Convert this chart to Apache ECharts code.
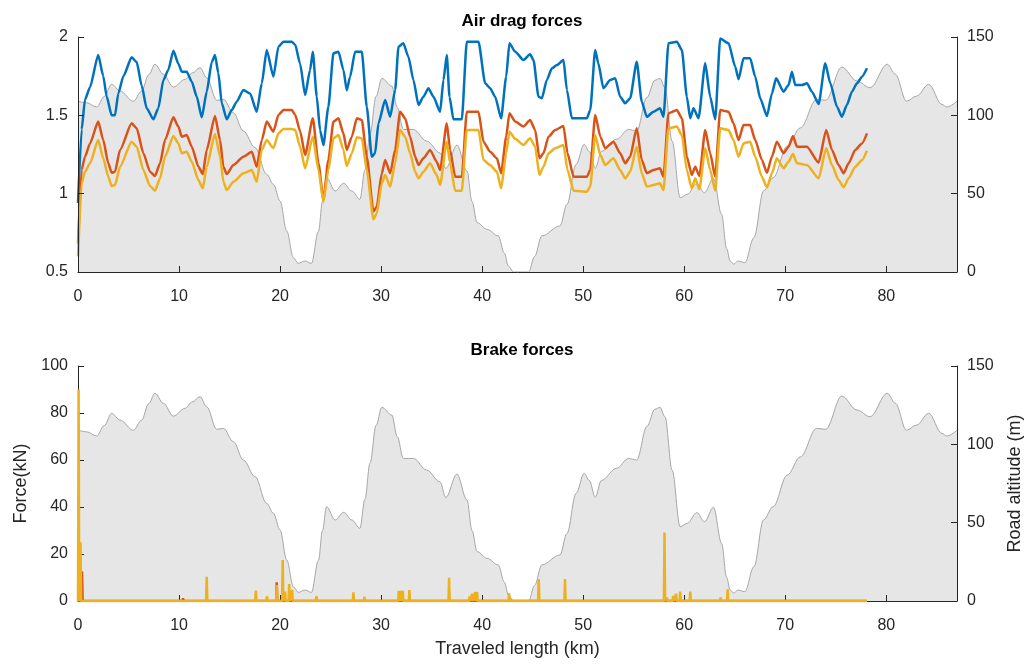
<!DOCTYPE html>
<html>
<head>
<meta charset="utf-8">
<title>Air drag and brake forces</title>
<script src="https://cdn.jsdelivr.net/npm/echarts@6/dist/echarts.min.js"></script>
<style>
  html, body { margin: 0; padding: 0; background: #fff; }
  #chart { width: 1032px; height: 666px; }
</style>
</head>
<body>
<div id="chart"></div>
<script>
// Road altitude along the route: [km, m]
const roadProfile = [
  [0,109],[0.86,108],[1.85,105.3],[2.6,112],[3.33,119.8],[4.16,115.5],[5.48,109],[6.3,115.5],[7.0,126],[7.62,132.6],
  [8.45,126.2],[9.44,118],[10.6,123],[11.3,127],[12.08,130.4],[12.74,124],[13.73,109.6],[14.39,110.2],[15.38,101.7],
  [16.37,90],[17.52,79.4],[18.68,62.3],[19.34,56],[20.0,45.3],[20.66,26.2],[21.32,9.1],[21.8,5.5],[22.47,7],[23.1,5.5],
  [23.8,26],[24.2,45],[24.6,60.2],[25.45,51.7],[26.3,56.6],[27.1,51.7],[27.9,46.4],[28.4,65],[28.9,88],[29.5,112],
  [30.07,123.6],[31.06,118.7],[31.6,105],[32.2,91],[33.2,91],[34.5,83.6],[35.84,76],[36.4,66],[37.5,81],[38.5,64.5],
  [39.0,45],[39.5,31.5],[40.5,27.2],[41.6,23],[42.2,12],[42.6,3.8],[43.1,0],[44.6,0],[45.2,10],[45.9,23],[47.7,29.4],
  [48.4,43.2],[49.3,68.7],[50.1,81.5],[50.6,77],[51.2,66.2],[51.8,77],[53.3,84.7],[54.5,91],[55.3,90],[56.3,111.3],
  [57.1,122.4],[57.6,123.6],[58.1,117.6],[58.8,83.6],[59.6,47.4],[60.3,49.6],[61.25,56.4],[62.0,50.6],[62.9,59.8],
  [63.7,36.8],[64.2,15],[64.55,7],[64.9,5],[65.3,7],[66.0,6],[66.9,21.9],[67.85,51.7],[68.8,60.2],[70.2,80.4],
  [71.5,92],[73.1,110.2],[74.0,109.6],[75.6,130.8],[77.1,121.9],[78.4,117.6],[80.1,132.6],[80.9,126.2],[82.0,109],
  [83.0,112.3],[84.2,119.8],[85.5,107],[86.0,105.3],[87,109]
];

// Air drag force, first trace (blue): [km, kN]
const dragBlue = [
  [0,0.94],[0.36,1.41],[0.69,1.6],[1.19,1.68],[2.0,1.885],[2.5,1.75],[2.84,1.62],[3.33,1.5],[3.66,1.5],[3.99,1.64],
  [4.49,1.75],[5.31,1.87],[5.81,1.84],[6.3,1.69],[6.8,1.545],[7.46,1.475],[7.95,1.545],[8.45,1.725],[8.94,1.79],
  [9.44,1.913],[9.93,1.83],[10.27,1.778],[10.76,1.778],[11.26,1.715],[11.75,1.62],[12.25,1.487],[12.74,1.65],
  [13.24,1.84],[13.56,1.885],[13.89,1.77],[14.23,1.577],[14.72,1.475],[15.22,1.534],[15.71,1.587],[16.37,1.662],
  [17.03,1.64],[17.69,1.523],[18.19,1.704],[18.68,1.917],[19.34,1.747],[19.84,1.938],[20.33,1.97],[21.16,1.97],
  [21.5,1.95],[21.98,1.83],[22.48,1.63],[22.97,1.79],[23.24,1.906],[23.63,1.62],[23.96,1.406],[24.29,1.31],
  [24.78,1.555],[25.28,1.896],[25.78,1.906],[26.27,1.79],[26.6,1.66],[26.93,1.747],[27.43,1.906],[28.09,1.906],
  [28.58,1.555],[29.08,1.236],[29.4,1.258],[29.74,1.449],[30.4,1.598],[30.9,1.491],[31.39,1.662],[31.72,1.938],
  [32.2,1.96],[32.7,1.874],[33.2,1.725],[33.7,1.566],[34.19,1.619],[34.68,1.673],[35.18,1.619],[35.84,1.523],
  [36.17,1.725],[36.5,1.885],[36.77,1.619],[37.16,1.475],[37.99,1.475],[38.48,1.97],[39.64,1.97],[40.3,1.704],
  [40.79,1.673],[41.29,1.619],[41.88,1.481],[42.38,1.747],[42.7,1.96],[43.27,1.906],[44.09,1.853],[44.75,1.89],
  [45.08,1.853],[45.58,1.619],[45.91,1.609],[46.4,1.725],[46.9,1.8],[47.4,1.821],[48.05,1.853],[48.39,1.662],
  [48.88,1.481],[50.37,1.481],[50.7,1.534],[51.19,1.917],[51.5,1.832],[52.0,1.673],[52.67,1.725],[53.17,1.736],
  [53.66,1.619],[54.16,1.577],[54.65,1.609],[55.3,1.842],[55.8,1.587],[56.3,1.491],[56.96,1.523],[57.6,1.545],
  [57.95,1.491],[58.44,1.96],[59.27,1.97],[59.77,1.917],[60.26,1.619],[60.6,1.481],[60.92,1.545],[61.42,1.481],
  [62.08,1.832],[62.57,1.619],[63.07,1.475],[63.56,1.99],[64.39,1.96],[65.05,1.81],[65.38,1.73],[65.87,1.864],
  [66.53,1.864],[67.03,1.747],[67.52,1.609],[68.19,1.496],[68.68,1.64],[69.1,1.736],[69.83,1.651],[70.33,1.693],
  [70.66,1.778],[70.99,1.693],[71.65,1.693],[72.15,1.704],[72.64,1.651],[73.3,1.572],[73.96,1.832],[74.46,1.704],
  [75.12,1.555],[75.61,1.491],[76.1,1.566],[76.6,1.651],[77.1,1.704],[77.6,1.747],[78.09,1.8]
];

// Air drag force, second trace (orange): [km, kN]
const dragOrange = [
  [0,0.68],[0.36,1.151],[0.69,1.236],[1.19,1.321],[2.0,1.46],[2.5,1.342],[3.0,1.194],[3.33,1.134],[3.66,1.14],
  [4.16,1.279],[5.31,1.449],[5.81,1.417],[6.47,1.258],[7.13,1.14],[7.62,1.113],[8.12,1.194],[8.61,1.342],[9.44,1.487],
  [9.93,1.428],[10.27,1.364],[10.76,1.374],[11.26,1.3],[11.92,1.172],[12.35,1.125],[12.74,1.279],[13.56,1.496],
  [14.06,1.342],[14.39,1.172],[14.72,1.125],[15.38,1.183],[16.37,1.236],[17.2,1.268],[17.69,1.172],[18.19,1.342],
  [18.68,1.46],[19.34,1.396],[19.84,1.502],[20.33,1.534],[21.16,1.534],[21.5,1.502],[21.98,1.4],[22.48,1.247],
  [23.24,1.481],[23.8,1.194],[24.29,0.96],[24.78,1.215],[25.28,1.46],[25.78,1.481],[26.27,1.385],[26.6,1.279],
  [27.1,1.364],[27.6,1.481],[28.09,1.47],[28.58,1.236],[29.24,0.886],[29.57,0.917],[30.07,1.13],[30.4,1.215],
  [30.9,1.13],[31.39,1.279],[31.88,1.523],[32.38,1.481],[32.87,1.364],[33.37,1.236],[33.7,1.183],[34.19,1.226],
  [34.85,1.279],[35.5,1.204],[35.84,1.151],[36.5,1.449],[36.83,1.279],[37.33,1.108],[37.99,1.108],[38.48,1.523],
  [39.64,1.523],[40.13,1.332],[40.79,1.268],[41.46,1.226],[41.88,1.13],[42.38,1.364],[42.7,1.513],[43.27,1.46],
  [44.09,1.428],[44.75,1.47],[45.25,1.406],[45.67,1.226],[46.07,1.258],[46.57,1.364],[47.23,1.406],[48.05,1.432],
  [48.45,1.258],[49.05,1.108],[50.37,1.108],[50.7,1.151],[51.19,1.502],[51.7,1.364],[52.18,1.29],[53.0,1.332],
  [53.66,1.258],[54.16,1.194],[54.65,1.236],[55.3,1.417],[55.8,1.215],[56.3,1.13],[56.96,1.151],[57.6,1.162],
  [57.95,1.108],[58.44,1.513],[59.27,1.534],[59.77,1.481],[60.26,1.236],[60.75,1.119],[61.09,1.172],[61.5,1.113],
  [62.08,1.406],[62.57,1.258],[63.07,1.108],[63.56,1.534],[64.39,1.523],[64.88,1.449],[65.38,1.342],[65.87,1.438],
  [66.53,1.438],[67.03,1.342],[67.69,1.215],[68.19,1.134],[68.68,1.236],[69.17,1.332],[69.83,1.258],[70.33,1.3],
  [70.76,1.368],[71.16,1.3],[72.15,1.3],[73.3,1.198],[74.06,1.406],[74.62,1.279],[75.28,1.183],[75.78,1.13],
  [76.27,1.194],[76.93,1.279],[77.6,1.321],[78.09,1.385]
];

// Air drag force, third trace (yellow): [km, kN]
const dragYellow = [
  [0,0.6],[0.36,1.066],[0.69,1.14],[1.19,1.194],[2.0,1.342],[2.5,1.226],[3.0,1.108],[3.33,1.049],[3.66,1.055],
  [4.16,1.172],[5.31,1.332],[5.81,1.3],[6.47,1.151],[7.13,1.049],[7.62,1.019],[8.12,1.098],[8.61,1.236],[9.44,1.368],
  [9.93,1.321],[10.27,1.258],[10.76,1.268],[11.26,1.204],[11.92,1.087],[12.35,1.034],[12.74,1.172],[13.56,1.381],
  [14.06,1.236],[14.39,1.076],[14.72,1.023],[15.38,1.076],[16.37,1.13],[17.2,1.151],[17.69,1.076],[18.19,1.279],
  [18.68,1.342],[19.34,1.29],[19.84,1.385],[20.33,1.413],[21.16,1.413],[21.5,1.406],[21.98,1.3],[22.48,1.162],
  [23.24,1.364],[23.8,1.151],[24.29,0.949],[24.78,1.151],[25.28,1.353],[25.78,1.374],[26.27,1.279],[26.6,1.177],
  [27.1,1.258],[27.6,1.36],[28.09,1.353],[28.58,1.151],[29.24,0.836],[29.57,0.875],[30.07,1.066],[30.4,1.119],
  [30.9,1.045],[31.39,1.194],[31.88,1.406],[32.38,1.364],[32.87,1.258],[33.37,1.14],[33.7,1.098],[34.19,1.14],
  [34.85,1.194],[35.5,1.119],[35.84,1.055],[36.5,1.332],[36.83,1.194],[37.33,1.019],[37.99,1.019],[38.48,1.406],
  [39.64,1.406],[40.13,1.215],[40.79,1.183],[41.46,1.14],[41.88,1.034],[42.38,1.258],[42.7,1.396],[43.27,1.35],
  [44.09,1.311],[44.75,1.353],[45.25,1.3],[45.67,1.119],[46.07,1.172],[46.57,1.258],[47.23,1.29],[48.05,1.311],
  [48.45,1.151],[49.05,1.019],[50.37,1.013],[50.7,1.045],[51.19,1.374],[51.7,1.247],[52.18,1.183],[53.0,1.226],
  [53.66,1.151],[54.16,1.098],[54.65,1.14],[55.3,1.3],[55.8,1.13],[56.3,1.045],[56.96,1.055],[57.6,1.066],
  [57.95,1.023],[58.44,1.417],[59.27,1.428],[59.77,1.374],[60.26,1.151],[60.75,1.034],[61.09,1.098],[61.5,1.028],
  [62.08,1.29],[62.57,1.151],[63.07,1.019],[63.56,1.417],[64.39,1.406],[64.88,1.342],[65.38,1.236],[65.87,1.321],
  [66.53,1.332],[67.03,1.236],[67.69,1.108],[68.19,1.04],[68.68,1.13],[69.17,1.226],[69.83,1.162],[70.33,1.204],
  [70.76,1.253],[71.16,1.194],[72.15,1.183],[73.3,1.098],[74.06,1.29],[74.62,1.183],[75.28,1.087],[75.78,1.04],
  [76.27,1.098],[76.93,1.172],[77.6,1.215],[78.09,1.274]
];

// Brake force events (yellow trace): [km, kN]
const brakeYellow = [
  [0.06,90],[0.25,25],[12.74,10.3],[15.15,0.7],[17.6,4.4],[18.7,2.1],[19.67,6.8],[20.26,17.4],[20.5,4],[20.9,7.2],
  [21.2,4.7],[23.6,2.1],[27.26,3.7],[28.35,1.8],[31.75,4.3],[31.95,4.4],[32.15,4.3],[32.8,4.7],[36.73,9.9],
  [38.75,2],[39.0,3],[39.3,3.8],[39.5,3.8],[42.67,3.3],[45.6,9.4],[48.2,9.4],[55.6,0.7],[58.05,29.1],[58.3,1.5],
  [58.9,2.2],[59.2,3],[59.6,4],[60.6,4],[63.6,1.5],[64.3,5],[74.2,0.8]
];
// Brake force events (orange trace): [km, kN]
const brakeOrange = [[0.4,12.5],[10.4,1.2],[19.67,8]];

// Axis ranges and tick steps
const kmTicks = { min: 0, max: 87, step: 10 };
const dragTicks = { min: 0.5, max: 2, step: 0.5 };
const brakeTicks = { min: 0, max: 100, step: 20 };
const altTicks = { min: 0, max: 150, step: 50 };

const C_BLUE = '#0072BD', C_ORANGE = '#D95319', C_YELLOW = '#EDB120';
const FONT = '"Liberation Sans", Arial, Helvetica, sans-serif';
const INK = '#262626';

// Turn isolated brake events into a spiky trace along the route
function spikeTrace(events, endKm) {
  const half = 0.06;
  const pts = [[0, 0]];
  events.forEach(([km, f]) => {
    pts.push([Math.max(0, km - half), 0], [km, f], [km + half, 0]);
  });
  pts.push([endKm, 0]);
  return pts;
}
const routeEnd = dragBlue[dragBlue.length - 1][0];

const chart = echarts.init(document.getElementById('chart'), null, { renderer: 'canvas' });

function xAxisFor(gridIndex, withName) {
  return {
    type: 'value', gridIndex,
    min: kmTicks.min, max: kmTicks.max, interval: kmTicks.step,
    z: 3,
    axisLine: { show: true, onZero: false, lineStyle: { color: INK, width: 1 } },
    axisTick: { show: true, inside: true, length: 6, lineStyle: { color: INK } },
    axisLabel: { show: true, showMaxLabel: false, margin: 17, color: INK, fontSize: 16, fontFamily: FONT },
    splitLine: { show: false },
    name: withName ? 'Traveled length (km)' : '',
    nameLocation: 'middle', nameGap: 39,
    nameTextStyle: { color: INK, fontSize: 18, fontFamily: FONT }
  };
}
function yAxisFor(gridIndex, t, pos, name) {
  return {
    type: 'value', gridIndex, position: pos,
    min: t.min, max: t.max, interval: t.step,
    z: 3,
    axisLine: { show: true, onZero: false, lineStyle: { color: INK, width: 1 } },
    axisTick: { show: true, inside: true, length: 6, lineStyle: { color: INK } },
    axisLabel: { show: true, margin: 10, color: INK, fontSize: 16, fontFamily: FONT },
    splitLine: { show: false },
    name, nameLocation: 'middle', nameGap: pos === 'left' ? 42 : 49,
    nameTextStyle: { color: INK, fontSize: 18, fontFamily: FONT }
  };
}

const profileStyle = {
  type: 'line', smooth: 0.35, smoothMonotone: 'x', showSymbol: false, z: 1,
  lineStyle: { color: '#a6a6a6', width: 1 },
  areaStyle: { color: '#e6e6e6', opacity: 1 },
  silent: true, data: roadProfile
};
function dragLine(data, color) {
  return { type: 'line', xAxisIndex: 0, yAxisIndex: 0, data, showSymbol: false,
           smooth: 0.2, smoothMonotone: 'x',
           lineStyle: { color, width: 2.5 }, itemStyle: { color }, z: 2 };
}

chart.setOption({
  animation: false,
  backgroundColor: '#ffffff',
  title: [
    { text: 'Air drag forces', left: 517, top: 8, textAlign: 'center',
      textStyle: { fontFamily: FONT, fontSize: 17, fontWeight: 'bold', color: '#000' } },
    { text: 'Brake forces', left: 517, top: 337, textAlign: 'center',
      textStyle: { fontFamily: FONT, fontSize: 17, fontWeight: 'bold', color: '#000' } }
  ],
  grid: [
    { left: 78, right: 75, top: 37, height: 235 },
    { left: 78, right: 75, top: 366, height: 235 }
  ],
  xAxis: [xAxisFor(0, false), xAxisFor(1, true)],
  yAxis: [
    yAxisFor(0, dragTicks, 'left', ''),
    yAxisFor(0, altTicks, 'right', ''),
    yAxisFor(1, brakeTicks, 'left', 'Force(kN)'),
    yAxisFor(1, altTicks, 'right', 'Road altitude (m)')
  ],
  series: [
    Object.assign({}, profileStyle, { xAxisIndex: 0, yAxisIndex: 1 }),
    dragLine(dragBlue, C_BLUE),
    dragLine(dragOrange, C_ORANGE),
    dragLine(dragYellow, C_YELLOW),
    Object.assign({}, profileStyle, { xAxisIndex: 1, yAxisIndex: 3 }),
    { type: 'line', xAxisIndex: 1, yAxisIndex: 2, data: spikeTrace(brakeOrange, routeEnd),
      showSymbol: false, lineStyle: { color: C_ORANGE, width: 2.5 }, z: 4 },
    { type: 'line', xAxisIndex: 1, yAxisIndex: 2, data: spikeTrace(brakeYellow, routeEnd),
      showSymbol: false, lineStyle: { color: C_YELLOW, width: 2.5 }, z: 5 }
  ]
});
</script>
</body>
</html>
